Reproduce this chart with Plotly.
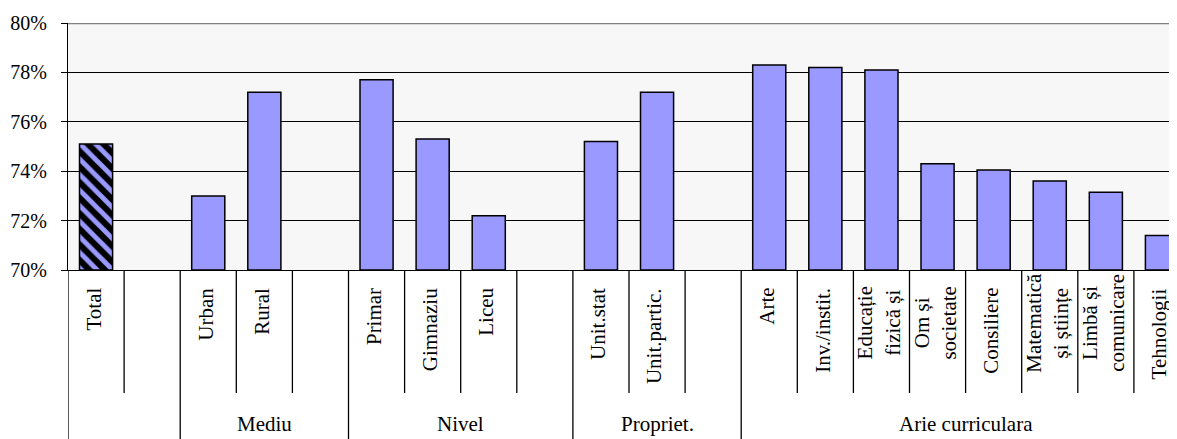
import plotly.graph_objects as go

# ---- data ----
categories = ["Total", "", "Urban", "Rural", "", "Primar", "Gimnaziu", "Liceu", "",
              "Unit.stat", "Unit.partic.", "", "Arte", "Inv./instit.",
              "Educație<br>fizică și", "Om și<br>societate", "Consiliere",
              "Matematică<br>și științe", "Limbă și<br>comunicare", "Tehnologii"]
values = [75.1, None, 73.0, 77.2, None, 77.7, 75.3, 72.2, None,
          75.2, 77.2, None, 78.3, 78.2, 78.1, 74.3, 74.05, 73.6, 73.15, 71.4]
groups = ["", "Mediu", "Nivel", "Propriet.", "Arie curriculara"]
group_sizes = [2, 3, 4, 3, 8]
y_ticks = [70, 72, 74, 76, 78, 80]

FONT = "Liberation Serif, Times New Roman, serif"
BLUE = "#9999ff"

n = len(categories)
xs = list(range(n))

fig = go.Figure()

# Total bar (patterned)
fig.add_trace(go.Bar(
    x=[xs[0]], y=[values[0] - 70], base=70,
    width=0.59,
    marker=dict(color="black", line=dict(color="black", width=1.5),
                pattern=dict(shape="\\", fgcolor=BLUE, bgcolor="black",
                             size=11, solidity=0.45, fillmode="replace")),
    hoverinfo="skip", showlegend=False))

# Other bars
fig.add_trace(go.Bar(
    x=xs[1:], y=[None if v is None else v - 70 for v in values[1:]], base=70,
    width=0.59,
    marker=dict(color=BLUE, line=dict(color="black", width=1.5)),
    hoverinfo="skip", showlegend=False))

# page body has an 8px margin -> compensate
OFF = 8
W = 1190 - OFF          # plot area runs past the right window edge, as in the reference
H = 439 - OFF
top_px, bot_px = 23 - OFF, 270 - OFF
left_px = 68 - OFF
ph = bot_px - top_px

def py(px):
    # px given in reference (window) coordinates
    return (bot_px - (px - OFF)) / ph

shapes = []
# top gray border line at 80%
shapes.append(dict(type="line", xref="paper", yref="y", x0=0, x1=1, y0=80, y1=80,
                   line=dict(color="#808080", width=2.5), layer="above"))

# group boundaries
bounds = []
acc = 0
for s in group_sizes:
    bounds.append(acc)
    acc += s
bounds.append(acc)
full_set = set(bounds)
for b in range(0, n + 1):
    xpos = b - 0.5
    if b in full_set:
        y1 = py(445)
    else:
        y1 = py(393)
    shapes.append(dict(type="line", xref="x", yref="paper", x0=xpos, x1=xpos,
                       y0=0, y1=y1, line=dict(color="black", width=1.3)))

LABEL_SIZE = 21
annotations = []
for i, lab in enumerate(categories):
    if not lab:
        continue
    if "<br>" in lab:
        annotations.append(dict(x=i, xref="x", y=py(323), yref="paper", text=lab,
                                textangle=-90, showarrow=False, align="center",
                                xanchor="center", yanchor="middle", xshift=-3,
                                font=dict(family=FONT, size=LABEL_SIZE, color="black")))
    else:
        annotations.append(dict(x=i, xref="x", y=py(286), yref="paper", text=lab,
                                textangle=-90, showarrow=False,
                                xanchor="center", yanchor="top", xshift=-3,
                                font=dict(family=FONT, size=LABEL_SIZE, color="black")))

for g, (a, b) in zip(groups, zip(bounds[:-1], bounds[1:])):
    if not g:
        continue
    annotations.append(dict(x=(a + b - 1) / 2, xref="x", y=py(424), yref="paper",
                            text=g, showarrow=False, xanchor="center", yanchor="middle",
                            font=dict(family=FONT, size=LABEL_SIZE, color="black")))

fig.update_layout(
    width=W, height=H,
    margin=dict(l=left_px, r=0, t=top_px, b=H - bot_px, pad=0),
    paper_bgcolor="white", plot_bgcolor="#f7f7f7",
    barmode="overlay",
    shapes=shapes, annotations=annotations,
    font=dict(family=FONT, size=20, color="black"),
)
fig.update_xaxes(range=[-0.5, n - 0.5], showticklabels=False, showgrid=False,
                 zeroline=False, showline=True, linecolor="black", linewidth=1.3,
                 ticks="")
fig.update_yaxes(range=[70, 80], tickvals=y_ticks,
                 ticktext=[f"{v}%" for v in y_ticks],
                 showgrid=True, gridcolor="black", gridwidth=1.3, zeroline=False,
                 showline=True, linecolor="black", linewidth=1.3,
                 ticks="outside", ticklen=6, tickcolor="black", tickwidth=1.3,
                 ticklabelstandoff=10,
                 tickfont=dict(family=FONT, size=20, color="black"))

fig.write_html("out.html")
